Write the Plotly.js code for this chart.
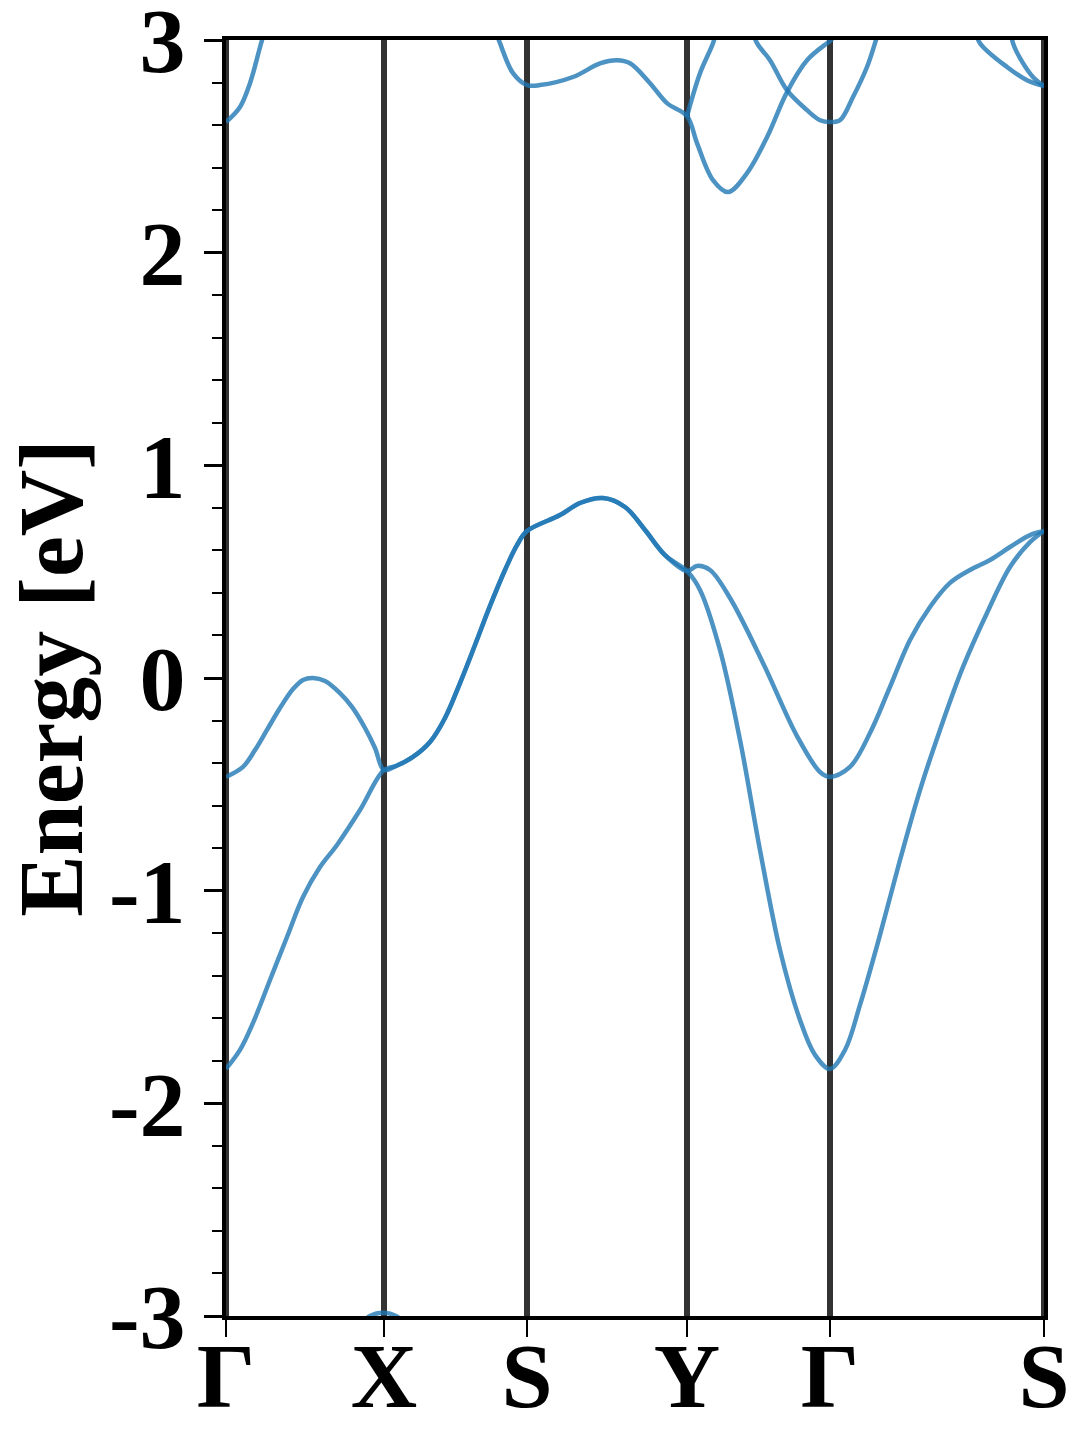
<!DOCTYPE html>
<html>
<head>
<meta charset="utf-8">
<script src="https://cdn.plot.ly/plotly-3.0.1.min.js"></script>
<style>
  html, body { margin: 0; padding: 0; background: #fff; }
  #chart { width: 1080px; height: 1440px; }
</style>
</head>
<body>
<div id="chart"></div>
<script>
// High-symmetry points along the k-path
const kTicks = [0, 1.58, 3.01, 4.61, 6.04, 8.18];
const kLabels = ['Γ', 'X', 'S', 'Y', 'Γ', 'S'];

// Valence band 1 (lower at Γ): Γ-X-S-Y-Γ-S
const v1K = [0, 0.14, 0.27, 0.44, 0.61, 0.77, 0.94, 1.11, 1.34, 1.58,
             1.70, 1.87, 2.04, 2.19, 2.34, 2.49, 2.64, 2.79, 2.91, 3.01,
             3.34, 3.54, 3.77, 3.99, 4.19, 4.39, 4.61,
             4.74, 4.94, 5.14, 5.34, 5.54, 5.74, 5.89, 6.04,
             6.19, 6.34, 6.54, 6.74, 6.94, 7.14, 7.37, 7.61, 7.84, 8.04, 8.18];
const v1E = [-1.838, -1.749, -1.622, -1.420, -1.218, -1.030, -0.889, -0.785, -0.621, -0.433,
             -0.414, -0.371, -0.301, -0.188, -0.024, 0.155, 0.339, 0.508, 0.625, 0.691,
             0.766, 0.823, 0.846, 0.804, 0.696, 0.578, 0.503,
             0.414, 0.132, -0.291, -0.809, -1.279, -1.608, -1.772, -1.838,
             -1.749, -1.537, -1.208, -0.856, -0.527, -0.244, 0.052, 0.306, 0.522, 0.639, 0.691];

// Valence band 2 (upper at Γ): Γ-X-S-Y-Γ-S
const v2K = [0, 0.17, 0.29, 0.41, 0.54, 0.67, 0.77, 0.87, 0.99, 1.14, 1.26, 1.39, 1.49, 1.58,
             1.70, 1.87, 2.04, 2.19, 2.34, 2.49, 2.64, 2.79, 2.91, 3.01,
             3.34, 3.54, 3.77, 3.99, 4.19, 4.39, 4.61,
             4.71, 4.84, 5.04, 5.37, 5.71, 5.94, 6.04,
             6.24, 6.44, 6.64, 6.84, 7.04, 7.24, 7.44, 7.64, 7.84, 8.04, 8.18];
const v2E = [-0.465, -0.418, -0.339, -0.244, -0.141, -0.052, -0.009, 0.0, -0.014, -0.071, -0.136, -0.235, -0.329, -0.433,
             -0.414, -0.371, -0.301, -0.188, -0.024, 0.155, 0.339, 0.508, 0.625, 0.691,
             0.766, 0.823, 0.846, 0.804, 0.696, 0.578, 0.503,
             0.527, 0.508, 0.376, 0.071, -0.273, -0.442, -0.465,
             -0.418, -0.259, -0.042, 0.179, 0.334, 0.447, 0.508, 0.555, 0.616, 0.672, 0.691];

// Deep band just touching -3 eV at X
const v0K = [1.30, 1.44, 1.58, 1.70, 1.84];
const v0E = [-3.06, -3.0, -2.985, -3.0, -3.06];

// Conduction bands (near top of window)
const c1K = [0, 0.14, 0.24, 0.34, 0.39];
const c1E = [2.614, 2.685, 2.797, 2.966, 3.05];

const c2K = [2.69, 2.74, 2.87, 3.01, 3.14, 3.47, 3.74, 3.91, 4.04, 4.24, 4.41, 4.61,
             4.71, 4.87, 5.02, 5.21, 5.41, 5.61, 5.81, 6.01, 6.04, 6.14];
const c2E = [3.05, 2.985, 2.844, 2.788, 2.788, 2.826, 2.89, 2.905, 2.891, 2.797, 2.703, 2.642,
             2.515, 2.341, 2.285, 2.374, 2.543, 2.755, 2.905, 2.985, 2.995, 3.05];

const c3K = [4.61, 4.74, 4.87, 4.91];
const c3E = [2.642, 2.844, 2.985, 3.05];

const c4K = [5.26, 5.31, 5.44, 5.61, 5.81, 5.94, 6.04, 6.14, 6.27, 6.41, 6.49, 6.53];
const c4E = [3.05, 2.985, 2.905, 2.764, 2.67, 2.623, 2.614, 2.623, 2.732, 2.873, 2.985, 3.05];

const c5K = [7.49, 7.54, 7.81, 8.01, 8.18];
const c5E = [3.05, 2.985, 2.873, 2.811, 2.783];

const c6K = [7.85, 7.87, 7.97, 8.07, 8.18];
const c6E = [3.05, 2.985, 2.891, 2.826, 2.783];

const bands = [
  [v1K, v1E], [v2K, v2E], [v0K, v0E],
  [c1K, c1E], [c2K, c2E], [c3K, c3E], [c4K, c4E], [c5K, c5E], [c6K, c6E]
];

const bandColor = '#1f77b4';
const traces = bands.map(([k, e]) => ({
  x: k, y: e, type: 'scatter', mode: 'lines',
  line: { color: bandColor, width: 4.5, shape: 'spline', smoothing: 1.0 },
  opacity: 0.8, hoverinfo: 'skip', showlegend: false
}));

const shapes = kTicks.map(k => ({
  type: 'line', xref: 'x', yref: 'paper', x0: k, x1: k, y0: 0, y1: 1,
  line: { color: '#333333', width: 6 }, layer: 'below'
}));

const font = { family: '"Liberation Serif", "Times New Roman", serif', color: '#000' };

const layout = {
  width: 1080, height: 1440,
  margin: { l: 226, r: 36, t: 40, b: 124 },
  paper_bgcolor: '#fff', plot_bgcolor: '#fff',
  showlegend: false,
  shapes: shapes,
  xaxis: {
    range: [kTicks[0], kTicks[kTicks.length - 1]],
    tickmode: 'array', tickvals: kTicks, ticktext: kLabels.map(s => '<b>' + s + '</b>'),
    ticks: 'outside', ticklen: 17, tickwidth: 2, tickcolor: '#000',
    tickfont: Object.assign({ size: 92 }, font),
    ticklabelstandoff: -40,
    ticklabeloverflow: 'allow',
    showgrid: false, zeroline: false,
    showline: true, linecolor: '#000', linewidth: 4, mirror: true
  },
  yaxis: {
    range: [-3, 3],
    automargin: 'left',
    tickmode: 'array', tickvals: [-3, -2, -1, 0, 1, 2, 3],
    ticktext: ['-3', '-2', '-1', '0', '1', '2', '3'].map(s => '<b>' + s + '</b>'),
    ticks: 'outside', ticklen: 18, tickwidth: 3, tickcolor: '#000',
    tickfont: Object.assign({ size: 92 }, font),
    ticklabeloverflow: 'allow',
    minor: { dtick: 0.2, tick0: 0, ticks: 'outside', ticklen: 10, tickwidth: 2, tickcolor: '#000', showgrid: false },
    showgrid: false, zeroline: false,
    showline: true, linecolor: '#000', linewidth: 4, mirror: true,
    title: { text: '<b>Energy [eV]</b>', font: Object.assign({ size: 92 }, font), standoff: 22 }
  }
};

Plotly.newPlot('chart', traces, layout, { displayModeBar: false, staticPlot: true });
</script>
</body>
</html>
